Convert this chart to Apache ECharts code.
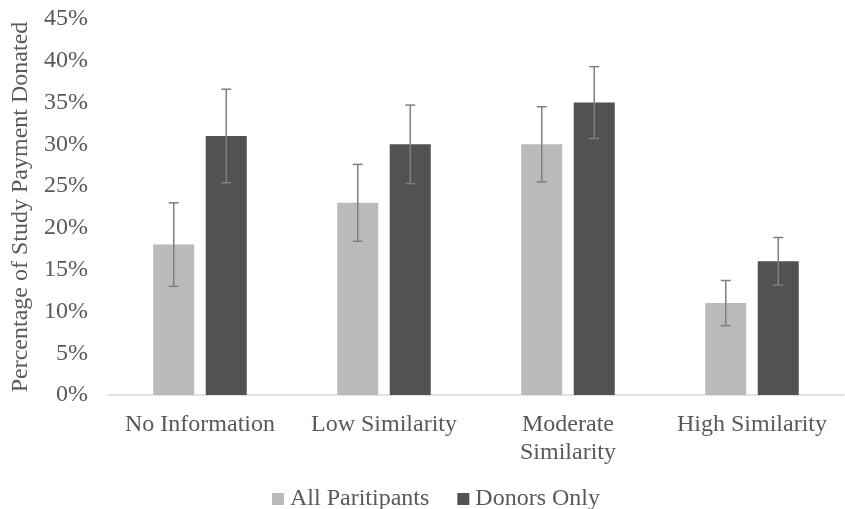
<!DOCTYPE html>
<html>
<head>
<meta charset="utf-8">
<script src="https://cdn.jsdelivr.net/npm/echarts@6/dist/echarts.min.js"></script>
<style>
  html, body { margin: 0; padding: 0; background: #fff; }
  #chart { width: 845px; height: 509px; }
</style>
</head>
<body>
<div id="chart"></div>
<script>
const categories = ['No Information', 'Low Similarity', 'Moderate\nSimilarity', 'High Similarity']
const allParticipants = [18, 23, 30, 11]
const allErr = [5, 4.6, 4.5, 2.7]
const donorsOnly = [31, 30, 35, 16]
const donorsErr = [5.6, 4.7, 4.3, 2.85]

const barWidth = 41
const barGapPx = 11.5
const offset = (barWidth + barGapPx) / 2

function errData (vals, errs) {
  return vals.map((v, i) => [i, v - errs[i], v + errs[i]])
}

function errRender (shift) {
  return function (params, api) {
    const x = api.coord([api.value(0), 0])[0] + shift
    const lo = api.coord([api.value(0), api.value(1)])[1]
    const hi = api.coord([api.value(0), api.value(2)])[1]
    const style = { stroke: '#7f7f7f', lineWidth: 1.5 }
    return {
      type: 'group',
      children: [
        { type: 'line', shape: { x1: x, y1: hi, x2: x, y2: lo }, style: style },
        { type: 'line', shape: { x1: x - 5, y1: hi, x2: x + 5, y2: hi }, style: style },
        { type: 'line', shape: { x1: x - 5, y1: lo, x2: x + 5, y2: lo }, style: style }
      ]
    }
  }
}

const font = 'Liberation Serif'
const fs = 24
const chart = echarts.init(document.getElementById('chart'))
chart.setOption({
  animation: false,
  textStyle: { fontFamily: font },
  grid: { left: 108, right: 1, top: 19, bottom: 114, containLabel: false, outerBoundsMode: 'none' },
  legend: {
    top: 482,
    left: 267,
    itemWidth: 12,
    itemHeight: 12,
    itemGap: 28,
    icon: 'rect',
    textStyle: { fontFamily: font, fontSize: fs, color: '#595959', padding: [0, 0, 0, 1] },
    data: ['All Paritipants', 'Donors Only']
  },
  xAxis: {
    type: 'category',
    data: categories,
    axisLine: { lineStyle: { color: '#d9d9d9', width: 1.5 } },
    axisTick: { show: false },
    axisLabel: {
      fontFamily: font,
      fontSize: fs,
      color: '#595959',
      margin: 16,
      lineHeight: 28,
      interval: 0
    }
  },
  yAxis: {
    type: 'value',
    min: 0,
    max: 45,
    interval: 5,
    name: 'Percentage of Study Payment Donated',
    nameLocation: 'middle',
    nameGap: 72,
    nameTextStyle: { fontFamily: font, fontSize: fs, color: '#595959' },
    axisLine: { show: false },
    axisTick: { show: false },
    splitLine: { show: false },
    axisLabel: {
      fontFamily: font,
      fontSize: fs,
      color: '#595959',
      margin: 20,
      formatter: '{value}%'
    }
  },
  series: [
    {
      name: 'All Paritipants',
      type: 'bar',
      barWidth: barWidth,
      barGap: (barGapPx / barWidth * 100) + '%',
      itemStyle: { color: '#bababa' },
      data: allParticipants
    },
    {
      name: 'Donors Only',
      type: 'bar',
      barWidth: barWidth,
      itemStyle: { color: '#525252' },
      data: donorsOnly
    },
    {
      type: 'custom',
      renderItem: errRender(-offset),
      data: errData(allParticipants, allErr),
      z: 10,
      silent: true
    },
    {
      type: 'custom',
      renderItem: errRender(offset),
      data: errData(donorsOnly, donorsErr),
      z: 10,
      silent: true
    }
  ]
})
</script>
</body>
</html>
